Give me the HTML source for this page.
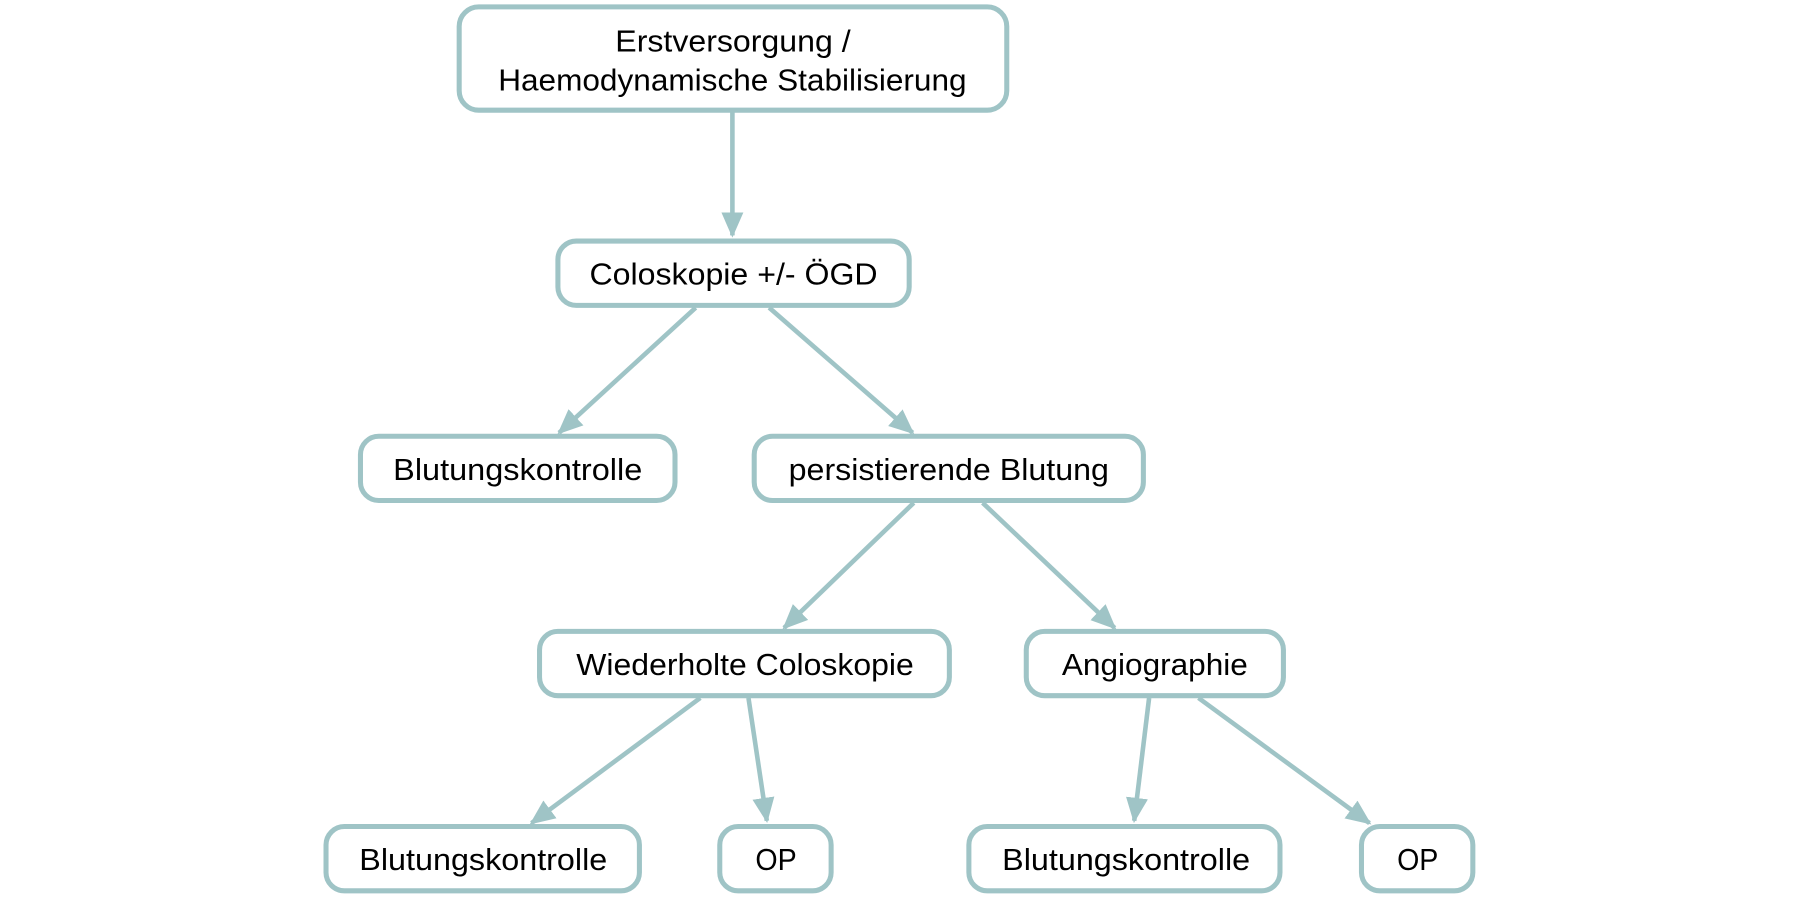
<!DOCTYPE html>
<html><head><meta charset="utf-8"><style>html,body{margin:0;padding:0;background:#fff}svg{display:block}</style></head>
<body>
<svg width="1800" height="900" viewBox="0 0 1568 784" xmlns="http://www.w3.org/2000/svg">
<defs><marker id="a" markerWidth="6" markerHeight="6" refX="5" refY="3" orient="auto" markerUnits="strokeWidth"><path d="M0,0.6 L5.5,3 L0,5.4 z" fill="#9fc4c6"/></marker></defs>
<g fill="#fff" stroke="#9fc4c6" stroke-width="4.4">
<rect x="400" y="6" width="477" height="90" rx="17"/>
<rect x="486" y="210" width="306" height="56" rx="16"/>
<rect x="314" y="380" width="274" height="56" rx="16"/>
<rect x="657" y="380" width="339" height="56" rx="16"/>
<rect x="470" y="550" width="357" height="56" rx="16"/>
<rect x="894" y="550" width="224" height="56" rx="16"/>
<rect x="284" y="720" width="273" height="56" rx="16"/>
<rect x="627" y="720" width="97" height="56" rx="16"/>
<rect x="844" y="720" width="271" height="56" rx="16"/>
<rect x="1186" y="720" width="97" height="56" rx="16"/>
</g>
<g stroke="#9fc4c6" stroke-width="4" fill="none" marker-end="url(#a)">
<line x1="638" y1="98" x2="638" y2="205"/>
<line x1="606" y1="268" x2="487" y2="377"/>
<line x1="670" y1="268" x2="795" y2="377"/>
<line x1="796" y1="438" x2="683" y2="547"/>
<line x1="856" y1="438" x2="971" y2="547"/>
<line x1="610" y1="608" x2="463" y2="717"/>
<line x1="652" y1="608" x2="668" y2="715"/>
<line x1="1001" y1="608" x2="988" y2="715"/>
<line x1="1044" y1="608" x2="1193" y2="717"/>
</g>
<g font-family="Liberation Sans, DejaVu Sans, sans-serif" font-size="27" fill="#000" text-anchor="middle">
<text x="638.5" y="45" textLength="205" lengthAdjust="spacingAndGlyphs">Erstversorgung /</text>
<text x="638" y="79" textLength="408" lengthAdjust="spacingAndGlyphs">Haemodynamische Stabilisierung</text>
<text x="639" y="248" textLength="251" lengthAdjust="spacingAndGlyphs">Coloskopie +/- ÖGD</text>
<text x="451" y="418" textLength="217" lengthAdjust="spacingAndGlyphs">Blutungskontrolle</text>
<text x="826.5" y="418" textLength="279" lengthAdjust="spacingAndGlyphs">persistierende Blutung</text>
<text x="649" y="588" textLength="294" lengthAdjust="spacingAndGlyphs">Wiederholte Coloskopie</text>
<text x="1006" y="588" textLength="162" lengthAdjust="spacingAndGlyphs">Angiographie</text>
<text x="421" y="758" textLength="216" lengthAdjust="spacingAndGlyphs">Blutungskontrolle</text>
<text x="676" y="758" textLength="36" lengthAdjust="spacingAndGlyphs">OP</text>
<text x="981" y="758" textLength="216" lengthAdjust="spacingAndGlyphs">Blutungskontrolle</text>
<text x="1235" y="758" textLength="36" lengthAdjust="spacingAndGlyphs">OP</text>
</g>
</svg>
</body></html>
